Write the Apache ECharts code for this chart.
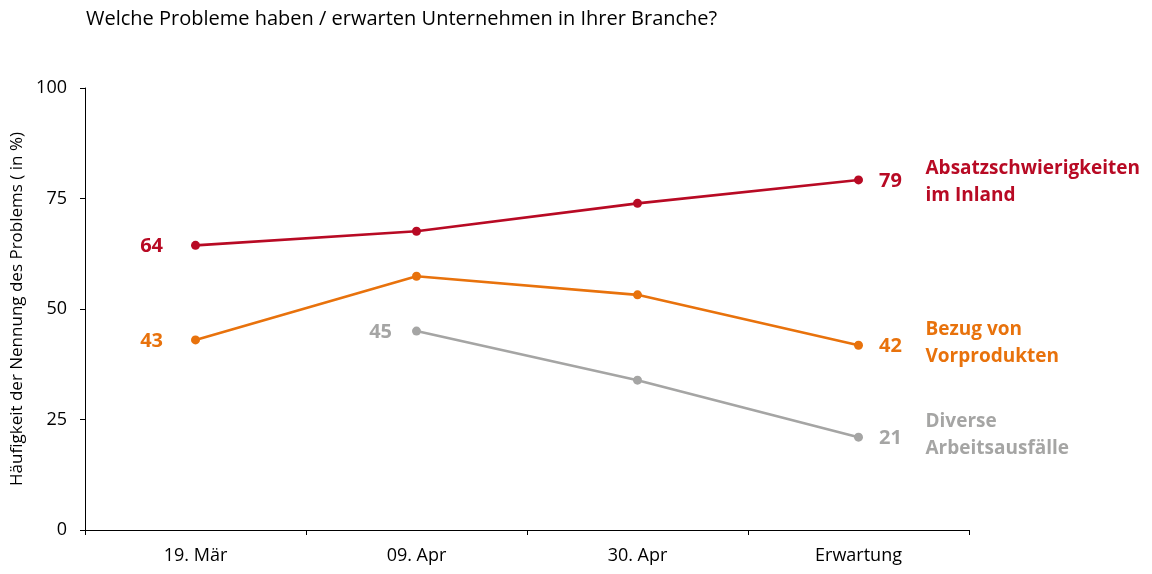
<!DOCTYPE html>
<html><head><meta charset="utf-8">
<script src="https://cdn.jsdelivr.net/npm/echarts@6/dist/echarts.min.js"></script>
<style>html,body{margin:0;padding:0;background:#fff}#c{width:1152px;height:574px}</style>
</head><body><div id="c"></div>
<script>
const categories = ['19. Mär', '09. Apr', '30. Apr', 'Erwartung'];
const seriesNames = ['Absatzschwierigkeiten\nim Inland', 'Bezug von\nVorprodukten', 'Diverse\nArbeitsausfälle'];
const absatz = [64.4, 67.6, 73.9, 79.2];
const bezug = [43.0, 57.4, 53.2, 41.8];
const diverse = [null, 45.0, 33.9, 21.0];
const labelValues = [[64, 79], [43, 42], [45, 21]];
const yTicks = [0, 25, 50, 75, 100];
const colors = ['#B80A24', '#E8720C', '#A5A5A4'];
const startGap = [28, 28, 20];
const nameShift = [2, -2, -2];

const FONT = 'Open Sans';
function mkSeries(idx, data) {
  const firstIdx = data.findIndex(v => v !== null);
  const lastIdx = data.length - 1;
  const c = colors[idx];
  const d = data.map((v, i) => {
    if (v === null) return null;
    if (i === firstIdx) return {value: v, label: {show: true, position: 'left', distance: startGap[idx], offset: [0, 1], formatter: String(labelValues[idx][0])}};
    if (i === lastIdx) return {value: v, label: {show: true, position: 'right', distance: 16, offset: [0, 1], formatter: String(labelValues[idx][1])}};
    return v;
  });
  return {
    type: 'line', name: seriesNames[idx], data: d,
    symbol: 'circle', symbolSize: 9,
    lineStyle: {color: c, width: 2.6},
    itemStyle: {color: c},
    label: {show: false, color: c, fontFamily: FONT, fontWeight: 'bold', fontSize: 20},
    endLabel: {show: true, formatter: seriesNames[idx], color: c, fontFamily: FONT, fontWeight: 'bold', fontSize: 19, lineHeight: 27, distance: 67, offset: [0, nameShift[idx]], align: 'left'},
    emphasis: {disabled: true},
    animation: false
  };
}

const chart = echarts.init(document.getElementById('c'));
chart.setOption({
  animation: false,
  title: {text: 'Welche Probleme haben / erwarten Unternehmen in Ihrer Branche?', left: 81, top: 4,
    textStyle: {fontFamily: FONT, fontWeight: 'normal', fontSize: 20, color: '#000'}},
  grid: {left: 85, right: 183, top: 88, bottom: 44, containLabel: false},
  xAxis: {type: 'category', data: categories, boundaryGap: true,
    axisLine: {lineStyle: {color: '#000', width: 1}},
    axisTick: {show: true, length: 5, lineStyle: {color: '#000'}},
    axisLabel: {fontFamily: FONT, fontSize: 18, color: '#000', margin: 17}},
  yAxis: {type: 'value', min: 0, max: 100, interval: 25,
    name: 'Häufigkeit der Nennung des Problems ( in %)', nameLocation: 'middle', nameGap: 58,
    nameTextStyle: {fontFamily: FONT, fontSize: 17, color: '#000'},
    axisLine: {show: true, lineStyle: {color: '#000', width: 1}},
    axisTick: {show: true, length: 5, lineStyle: {color: '#000'}},
    splitLine: {show: false},
    axisLabel: {fontFamily: FONT, fontSize: 18, color: '#000', margin: 18,
      formatter: v => yTicks.includes(v) ? String(v) : ''}},
  series: [mkSeries(0, absatz), mkSeries(1, bezug), mkSeries(2, diverse)]
});
</script></body></html>
